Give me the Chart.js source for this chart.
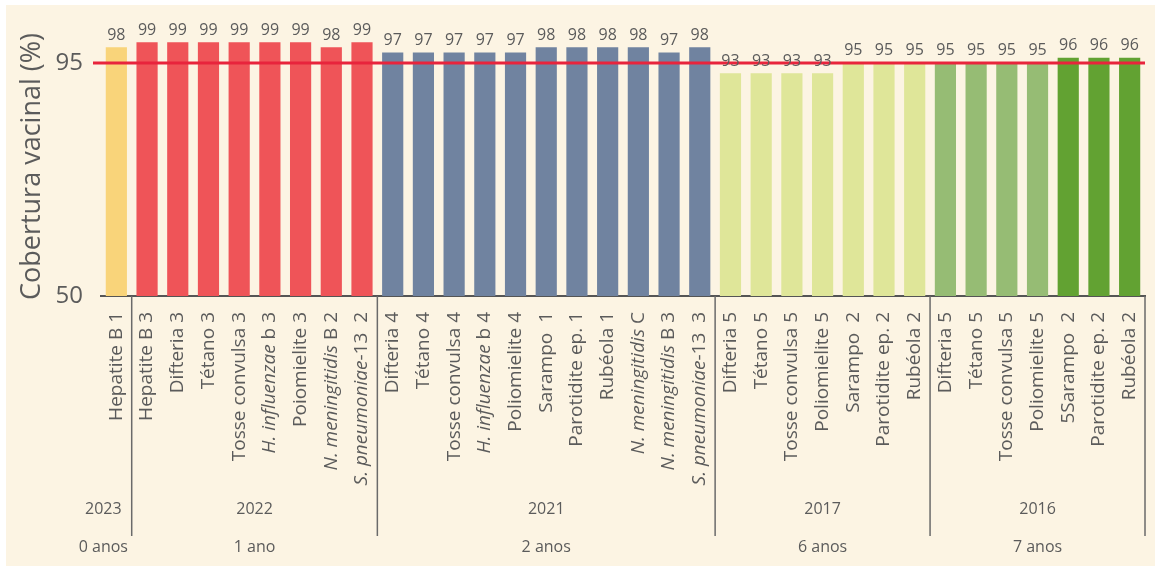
<!DOCTYPE html>
<html>
<head>
<meta charset="utf-8">
<script src="https://cdn.jsdelivr.net/npm/chart.js@4"></script>
<style>
  html, body { margin: 0; padding: 0; background: #ffffff; }
  #wrap { position: absolute; left: 6px; top: 5px; width: 1149px; height: 561px; background: #fcf4e3; }
</style>
</head>
<body>
<div id="wrap"><canvas id="chVac" width="1149" height="561"></canvas></div>
<script>
// vaccine labels, "_" marks italic parts
var labels = [
  "Hepatite B 1",
  "Hepatite B 3", "Difteria 3", "Tétano 3", "Tosse convulsa 3", "_H. influenzae_ b 3",
  "Poiomielite 3", "_N. meningitidis_ B 2", "_S. pneumoniae_-13  2",
  "Difteria 4", "Tétano 4", "Tosse convulsa 4", "_H. influenzae_ b 4", "Poliomielite 4",
  "Sarampo  1", "Parotidite ep. 1", "Rubéola 1", "_N. meningitidis_ C",
  "_N. meningitidis_ B 3", "_S. pneumoniae_-13  3",
  "Difteria 5", "Tétano 5", "Tosse convulsa 5", "Poliomielite 5", "Sarampo  2",
  "Parotidite ep. 2", "Rubéola 2",
  "Difteria 5", "Tétano 5", "Tosse convulsa 5", "Poliomielite 5", "5Sarampo  2",
  "Parotidite ep. 2", "Rubéola 2"
];
var coverage = [
  98,
  99, 99, 99, 99, 99, 99, 98, 99,
  97, 97, 97, 97, 97, 98, 98, 98, 98, 97, 98,
  93, 93, 93, 93, 95, 95, 95,
  95, 95, 95, 95, 96, 96, 96
];
var years = ["2023", "2022", "2021", "2017", "2016"];
var ages = ["0 anos", "1 ano", "2 anos", "6 anos", "7 anos"];
var groupSizes = [1, 8, 11, 7, 7];
var yTicks = [50, 95];
var target = 95;

// colours
var groupColors = ["#f9d47a", "#ef5458", "#7083a0", "#dfe699", "#96bc74"];
var darkGreen = "#62a232";
var textGrey = "#5b5b5b";
var fontFam = "'Open Sans', sans-serif";

var barColors = [];
groupSizes.forEach(function (n, g) {
  for (var i = 0; i < n; i++) barColors.push(groupColors[g]);
});
// last three bars of 2016 are darker
for (var k = barColors.length - 3; k < barColors.length; k++) barColors[k] = darkGreen;

var vacPlugin = {
  id: "vacExtras",
  afterDatasetsDraw: function (chart) {
    var ctx = chart.ctx;
    var area = chart.chartArea;
    var xs = chart.scales.x;
    var ys = chart.scales.y;

    // target line
    var ty = ys.getPixelForValue(target);
    ctx.save();
    ctx.strokeStyle = "#e8243c";
    ctx.lineWidth = 3;
    ctx.beginPath();
    ctx.moveTo(area.left - 8, ty);
    ctx.lineTo(area.right, ty);
    ctx.stroke();

    // value labels
    ctx.fillStyle = textGrey;
    ctx.font = "16px " + fontFam;
    ctx.textAlign = "center";
    ctx.textBaseline = "bottom";
    chart.getDatasetMeta(0).data.forEach(function (bar, i) {
      ctx.fillText(String(coverage[i]), bar.x, bar.y - 4);
    });

    // rotated category labels with italic parts
    var base = area.bottom;
    ctx.textBaseline = "middle";
    ctx.textAlign = "left";
    labels.forEach(function (lab, i) {
      var parts = lab.split("_");
      var widths = [], total = 0;
      parts.forEach(function (p, j) {
        ctx.font = (j % 2 ? "italic " : "") + "19px " + fontFam;
        var w = ctx.measureText(p).width;
        widths.push(w);
        total += w;
      });
      ctx.save();
      ctx.translate(xs.getPixelForValue(i), base + 16);
      ctx.rotate(-Math.PI / 2);
      var pos = -total;
      parts.forEach(function (p, j) {
        ctx.font = (j % 2 ? "italic " : "") + "19px " + fontFam;
        ctx.fillText(p, pos, 0);
        pos += widths[j];
      });
      ctx.restore();
    });

    // group separators, years and ages
    ctx.strokeStyle = "#6a6a6a";
    ctx.lineWidth = 1.5;
    ctx.font = "16px " + fontFam;
    ctx.textAlign = "center";
    var start = 0;
    groupSizes.forEach(function (n, g) {
      var end = start + n - 1;
      var sep = g < groupSizes.length - 1
        ? (xs.getPixelForValue(end) + xs.getPixelForValue(end + 1)) / 2
        : area.right;
      ctx.beginPath();
      ctx.moveTo(sep, base);
      ctx.lineTo(sep, base + 240);
      ctx.stroke();
      var cx = (xs.getPixelForValue(start) + xs.getPixelForValue(end)) / 2;
      if (n === 1) cx -= 13;
      ctx.fillText(years[g], cx, base + 213);
      ctx.fillText(ages[g], cx, base + 251);
      start = end + 1;
    });
    ctx.restore();
  }
};

var chVac = document.getElementById("chVac");
if (chVac) {
  this.c1 = new Chart(chVac, {
    type: "bar",
    data: {
      labels: labels,
      datasets: [{
        data: coverage,
        backgroundColor: barColors,
        borderWidth: 0,
        barPercentage: 0.69,
        categoryPercentage: 1
      }]
    },
    options: {
      responsive: false,
      devicePixelRatio: 1,
      animation: false,
      layout: { padding: { top: 32, right: 10, bottom: 262, left: 0 } },
      plugins: { legend: { display: false }, tooltip: { enabled: false } },
      scales: {
        x: {
          grid: { display: false },
          border: { display: true, color: "#555555", width: 2 },
          ticks: { display: false }
        },
        y: {
          min: 50,
          max: 100,
          afterBuildTicks: function (s) {
            s.ticks = yTicks.map(function (v) { return { value: v }; });
          },
          afterFit: function (s) { s.width = 95; },
          grid: { display: false },
          border: { display: false },
          ticks: { color: textGrey, padding: 10, font: { size: 24, family: fontFam } },
          title: {
            display: true,
            text: "Cobertura vacinal (%)",
            color: textGrey,
            padding: { top: 10, bottom: 0 },
            font: { size: 27, weight: "500", family: fontFam }
          }
        }
      }
    },
    plugins: [vacPlugin]
  });
}
</script>
</body>
</html>
